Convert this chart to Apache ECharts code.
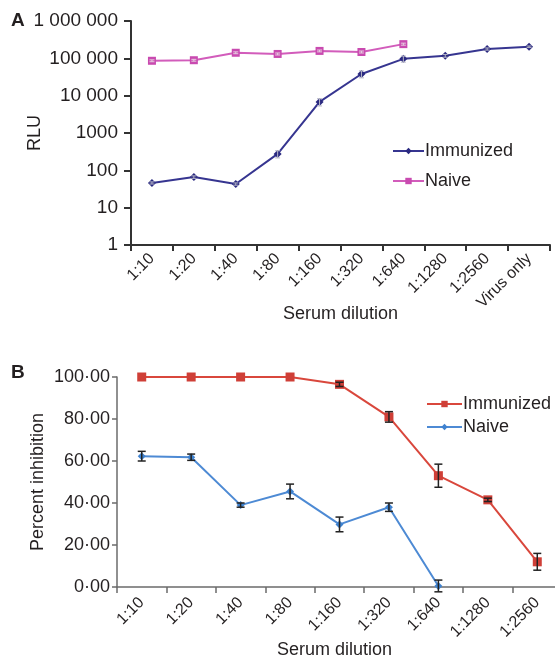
<!DOCTYPE html>
<html><head><meta charset="utf-8">
<script src="https://cdn.jsdelivr.net/npm/echarts@6/dist/echarts.min.js"></script>
<style>html,body{margin:0;padding:0;background:#fff}#c{width:555px;height:660px}</style>
</head><body><div id="c"></div>
<script>
// Panel A data
const categoriesA = ['1:10','1:20','1:40','1:80','1:160','1:320','1:640','1:1280','1:2560','Virus only'];
const immunizedRLU = [46, 66, 43, 275, 6800, 38000, 97000, 117000, 178000, 204000];
const immunizedRLUErr = [3, 5, 3, 60, 1500, 8000, 18000, 10000, 12000, 10000];
const naiveRLU = [86000, 89000, 141000, 131000, 158000, 148000, 240000, null, null, null];
const naiveRLUErr = [5000, 5000, 8000, 8000, 9000, 9000, 15000, null, null, null];
const rluTickLabels = {1:'1',10:'10',100:'100',1000:'1000',10000:'10 000',100000:'100 000',1000000:'1 000 000'};
// Panel B data
const categoriesB = ['1:10','1:20','1:40','1:80','1:160','1:320','1:640','1:1280','1:2560'];
const immunizedPct = [100, 100, 100, 100, 96.5, 81, 53, 41.5, 12];
const immunizedPctErr = [0, 0, 0, 0, 1, 2.5, 5.5, 0.8, 4];
const naivePct = [62.3, 61.8, 39, 45.5, 29.8, 38, 0.5, null, null];
const naivePctErr = [2.3, 1.5, 1, 3.5, 3.5, 2, 2.8, null, null];
const pctTicks = [0, 20, 40, 60, 80, 100];

const FONT = 'Liberation Sans, Arial, sans-serif';
const TXT = '#231f20';

function errData(vals, errs) {
  const out = [];
  vals.forEach((v, i) => {
    if (v == null || errs[i] == null || errs[i] === 0) return;
    out.push([i, v - errs[i], v + errs[i]]);
  });
  return out;
}
function errSeries(xi, yi, data, color, cap, lw) {
  return {
    type: 'custom', xAxisIndex: xi, yAxisIndex: yi, data: data, z: 5, silent: true,
    renderItem: function (params, api) {
      const x = api.value(0);
      const lo = api.coord([x, api.value(1)]);
      const hi = api.coord([x, api.value(2)]);
      const st = { stroke: color, lineWidth: lw };
      return { type: 'group', children: [
        { type: 'line', shape: { x1: lo[0], y1: lo[1], x2: hi[0], y2: hi[1] }, style: st },
        { type: 'line', shape: { x1: lo[0] - cap, y1: lo[1], x2: lo[0] + cap, y2: lo[1] }, style: st },
        { type: 'line', shape: { x1: hi[0] - cap, y1: hi[1], x2: hi[0] + cap, y2: hi[1] }, style: st }
      ]};
    }
  };
}

const chart = echarts.init(document.getElementById('c'), null, { renderer: 'canvas' });
const option = {
  backgroundColor: '#fff',
  animation: false,
  textStyle: { fontFamily: FONT, color: TXT },
  graphic: [
    { type: 'text', left: 11, top: 11, style: { text: 'A', font: 'bold 19px ' + FONT, fill: TXT } },
    { type: 'text', left: 11, top: 363, style: { text: 'B', font: 'bold 19px ' + FONT, fill: TXT } }
  ],
  grid: [
    { left: 131, top: 21, width: 419, height: 224, outerBoundsMode: 'none', containLabel: false },
    { left: 117, top: 377, width: 445, height: 210, outerBoundsMode: 'none', containLabel: false }
  ],
  legend: [
    { orient: 'vertical', left: 387, top: 137, itemWidth: 31, itemHeight: 8, itemGap: 12,
      data: ['Immunized', 'Naive'], textStyle: { fontSize: 18, color: TXT, fontFamily: FONT, padding: [0,0,0,-4] },
      formatter: n => n.trim() },
    { orient: 'vertical', left: 421, top: 390, itemWidth: 35, itemHeight: 8, itemGap: 5,
      data: ['Immunized ', 'Naive '], textStyle: { fontSize: 18, color: TXT, fontFamily: FONT, padding: [0,0,0,-4] },
      formatter: n => n.trim() }
  ],
  xAxis: [
    { gridIndex: 0, type: 'category', data: categoriesA, boundaryGap: true,
      axisLine: { lineStyle: { color: '#333', width: 2 } },
      axisTick: { show: true, length: 6, lineStyle: { color: '#333', width: 2 } },
      axisLabel: { rotate: 45, interval: 0, fontSize: 16, color: TXT, fontFamily: FONT, margin: 11 },
      name: 'Serum dilution', nameLocation: 'middle', nameGap: 60, nameMoveOverlap: false,
      nameTextStyle: { fontSize: 18, color: TXT, fontFamily: FONT } },
    { gridIndex: 1, type: 'category', data: categoriesB, boundaryGap: true,
      axisLine: { lineStyle: { color: '#6b6b6b', width: 1.5 } },
      axisTick: { show: true, length: 6, lineStyle: { color: '#6b6b6b', width: 1.5 } },
      axisLabel: { rotate: 45, interval: 0, fontSize: 16, color: TXT, fontFamily: FONT, margin: 13 },
      name: 'Serum dilution', nameLocation: 'middle', nameGap: 54, nameMoveOverlap: false,
      nameTextStyle: { fontSize: 18, color: TXT, fontFamily: FONT, padding: [0, 0, 0, -10] } }
  ],
  yAxis: [
    { gridIndex: 0, type: 'log', logBase: 10, min: 1, max: 1000000, interval: 1,
      splitLine: { show: false },
      axisLine: { show: true, lineStyle: { color: '#333', width: 2 } },
      axisTick: { show: true, length: 7, lineStyle: { color: '#333', width: 2 } },
      axisLabel: { fontSize: 19, color: TXT, fontFamily: FONT, margin: 13,
        formatter: v => rluTickLabels[Math.round(v)] || '' },
      name: 'RLU', nameLocation: 'middle', nameGap: 87, nameMoveOverlap: false,
      nameTextStyle: { fontSize: 18, color: TXT, fontFamily: FONT } },
    { gridIndex: 1, type: 'value', min: 0, max: 100, interval: 20,
      splitLine: { show: false },
      axisLine: { show: true, lineStyle: { color: '#6b6b6b', width: 1.5 } },
      axisTick: { show: true, length: 5, lineStyle: { color: '#6b6b6b', width: 1.5 } },
      axisLabel: { fontSize: 18, color: TXT, fontFamily: FONT, margin: 7,
        formatter: v => pctTicks.indexOf(v) >= 0 ? v.toFixed(2).replace('.', '\u00b7') : '' },
      name: 'Percent inhibition', nameLocation: 'middle', nameGap: 70, nameMoveOverlap: false,
      nameTextStyle: { fontSize: 18, color: TXT, fontFamily: FONT } }
  ],
  series: [
    { name: 'Immunized', type: 'line', xAxisIndex: 0, yAxisIndex: 0, data: immunizedRLU,
      symbol: 'diamond', symbolSize: 8, color: '#2a2980',
      lineStyle: { width: 2, color: '#363590' }, itemStyle: { color: '#2a2980' }, z: 3 },
    { name: 'Naive', type: 'line', xAxisIndex: 0, yAxisIndex: 0, data: naiveRLU,
      symbol: 'rect', symbolSize: 8, color: '#c94ab0',
      lineStyle: { width: 2, color: '#d25cbb' }, itemStyle: { color: '#c94ab0' }, z: 3 },
    errSeries(0, 0, errData(immunizedRLU, immunizedRLUErr), '#b5b5c5', 2.5, 1),
    errSeries(0, 0, errData(naiveRLU, naiveRLUErr), '#e6d0e0', 2.5, 1),
    { name: 'Immunized ', type: 'line', xAxisIndex: 1, yAxisIndex: 1, data: immunizedPct,
      symbol: 'rect', symbolSize: 9, color: '#cf3f37',
      lineStyle: { width: 2, color: '#d9473c' }, itemStyle: { color: '#cf3f37' }, z: 3 },
    { name: 'Naive ', type: 'line', xAxisIndex: 1, yAxisIndex: 1, data: naivePct,
      symbol: 'diamond', symbolSize: 8, color: '#3f82cf',
      lineStyle: { width: 2, color: '#4d8ad4' }, itemStyle: { color: '#3f82cf' }, z: 3 },
    errSeries(1, 1, errData(immunizedPct, immunizedPctErr), '#222', 4, 1.5),
    errSeries(1, 1, errData(naivePct, naivePctErr), '#222', 4, 1.5)
  ]
};
chart.setOption(option);
</script>
</body></html>
